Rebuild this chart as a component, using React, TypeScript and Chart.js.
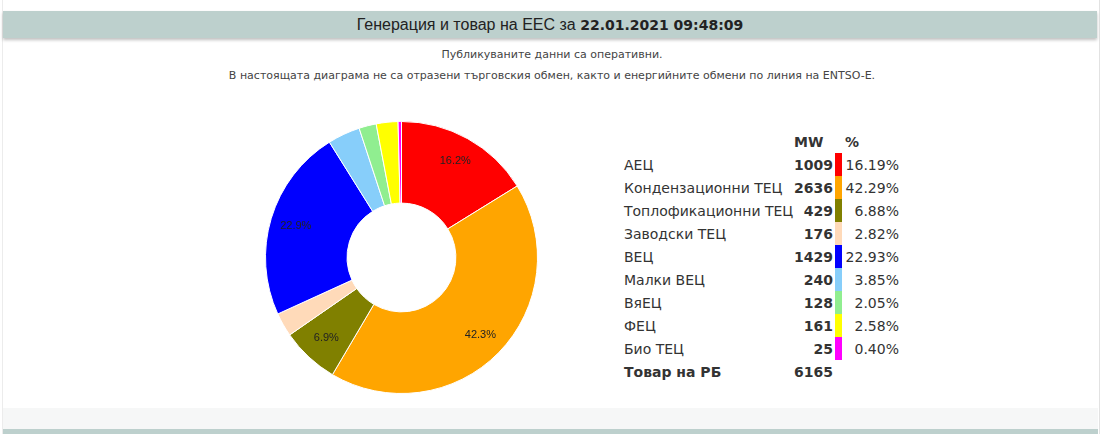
import { useEffect, useRef } from 'react';
import { Chart, registerables } from 'chart.js';

Chart.register(...registerables);

const sources = [
  'АЕЦ',
  'Кондензационни ТЕЦ',
  'Топлофикационни ТЕЦ',
  'Заводски ТЕЦ',
  'ВЕЦ',
  'Малки ВЕЦ',
  'ВяЕЦ',
  'ФЕЦ',
  'Био ТЕЦ',
];
const mwValues = [1009, 2636, 429, 176, 1429, 240, 128, 161, 25];
const sliceColors = [
  '#ff0000', '#ffa500', '#808000', '#ffdab9', '#0000ff',
  '#87cefa', '#90ee90', '#ffff00', '#ff00ff',
];
const consumptionLabel = 'Товар на РБ';
const consumptionMW = 6165;

const total = mwValues.reduce((a, b) => a + b, 0);

// percentage text inside the bigger slices
const sliceLabels = {
  id: 'sliceLabels',
  afterDatasetsDraw(chart: any) {
    const ctx = chart.ctx;
    const meta = chart.getDatasetMeta(0);
    ctx.save();
    ctx.font = '11px "Liberation Sans", Arial, sans-serif';
    ctx.fillStyle = '#222';
    ctx.textAlign = 'center';
    ctx.textBaseline = 'middle';
    meta.data.forEach((arc: any, i: number) => {
      const pct = (mwValues[i] / total) * 100;
      if (pct < 5) return;
      const { x, y, startAngle, endAngle, outerRadius } = arc.getProps(
        ['x', 'y', 'startAngle', 'endAngle', 'outerRadius'], true);
      const mid = (startAngle + endAngle) / 2;
      const r = outerRadius * 0.812;
      ctx.fillText(pct.toFixed(1) + '%', x + Math.cos(mid) * r, y + Math.sin(mid) * r);
    });
    ctx.restore();
  },
};

function GenerationPie() {
  const canvasRef = useRef<HTMLCanvasElement>(null);
  const chartRef = useRef<any>(null);

  useEffect(() => {
    if (!canvasRef.current) return;
    if (chartRef.current) chartRef.current.destroy();

    chartRef.current = new Chart(canvasRef.current, {
      type: 'doughnut',
      data: {
        labels: sources,
        datasets: [{
          data: mwValues,
          backgroundColor: sliceColors,
          borderColor: '#ffffff',
          borderWidth: 1,
        }],
      },
      options: {
        responsive: true,
        maintainAspectRatio: false,
        animation: false,
        cutout: '40%',
        layout: { padding: 0 },
        plugins: {
          legend: { display: false },
          tooltip: { enabled: false },
        },
      },
      plugins: [sliceLabels],
    });

    return () => {
      if (chartRef.current) {
        chartRef.current.destroy();
        chartRef.current = null;
      }
    };
  }, []);

  return (
    <div style={{ position: 'absolute', left: 265, top: 121, width: 273, height: 273 }}>
      <canvas ref={canvasRef}></canvas>
    </div>
  );
}

const tableFont = '"DejaVu Sans", Verdana, sans-serif';

function SourceTable() {
  const cell = { height: 23, padding: 0, whiteSpace: 'nowrap' as const, overflow: 'visible' as const };
  return (
    <table
      style={{
        position: 'absolute', left: 620, top: 130, width: 279,
        borderCollapse: 'collapse', tableLayout: 'fixed',
        fontFamily: tableFont, fontSize: 14, color: '#333',
      }}
    >
      <colgroup>
        <col style={{ width: 174 }} />
        <col style={{ width: 41 }} />
        <col style={{ width: 7 }} />
        <col style={{ width: 57 }} />
      </colgroup>
      <tbody>
        <tr>
          <td style={cell}></td>
          <td style={{ ...cell, textAlign: 'right', fontWeight: 'bold', paddingRight: 12 }}>MW</td>
          <td style={cell}></td>
          <td style={{ ...cell, fontWeight: 'bold', paddingLeft: 3 }}>%</td>
        </tr>
        {sources.map((name, i) => (
          <tr key={name}>
            <td style={{ ...cell, paddingLeft: 4 }}>{name}</td>
            <td style={{ ...cell, textAlign: 'right', fontWeight: 'bold', paddingRight: 2 }}>{mwValues[i]}</td>
            <td style={{ ...cell, background: sliceColors[i] }}></td>
            <td style={{ ...cell, textAlign: 'right' }}>{((mwValues[i] / total) * 100).toFixed(2)}%</td>
          </tr>
        ))}
        <tr>
          <td style={{ ...cell, paddingLeft: 4, fontWeight: 'bold' }}>{consumptionLabel}</td>
          <td style={{ ...cell, textAlign: 'right', fontWeight: 'bold', paddingRight: 2 }}>{consumptionMW}</td>
          <td style={cell}></td>
          <td style={cell}></td>
        </tr>
      </tbody>
    </table>
  );
}

export default function App() {
  return (
    <div style={{ position: 'fixed', left: 0, top: 0, width: 1104, height: 434, background: '#fff', overflow: 'hidden' }}>
      <div style={{
        position: 'absolute', left: 2, top: 0, width: 1096, height: 434,
        borderLeft: '1px solid #ececec', borderRight: '1px solid #e2e2e2',
      }} />
      <div style={{
        position: 'absolute', left: 3, top: 11, width: 1094, height: 27,
        background: '#bdd0cd', boxShadow: '0 2px 3px rgba(0,0,0,0.25)',
        textAlign: 'center', lineHeight: '27px', color: '#222',
        fontFamily: '"Liberation Sans", Arial, sans-serif', fontSize: 16,
      }}>
        Генерация и товар на ЕЕС за{' '}
        <b style={{ fontFamily: tableFont, fontSize: 14 }}>22.01.2021 09:48:09</b>
      </div>
      <div style={{
        position: 'absolute', left: 0, top: 47, width: 1104, textAlign: 'center',
        fontFamily: tableFont, fontSize: 11, color: '#444', lineHeight: '16px',
      }}>
        Публикуваните данни са оперативни.
      </div>
      <div style={{
        position: 'absolute', left: 0, top: 68, width: 1104, textAlign: 'center',
        fontFamily: tableFont, fontSize: 11, color: '#444', lineHeight: '16px',
      }}>
        В настоящата диаграма не са отразени търговския обмен, както и енергийните обмени по линия на ENTSO-E.
      </div>
      <GenerationPie />
      <SourceTable />
      <div style={{ position: 'absolute', left: 3, top: 408, width: 1095, height: 21, background: '#f6f7f7' }} />
      <div style={{ position: 'absolute', left: 3, top: 429, width: 1095, height: 5, background: '#bdd0cd' }} />
    </div>
  );
}
